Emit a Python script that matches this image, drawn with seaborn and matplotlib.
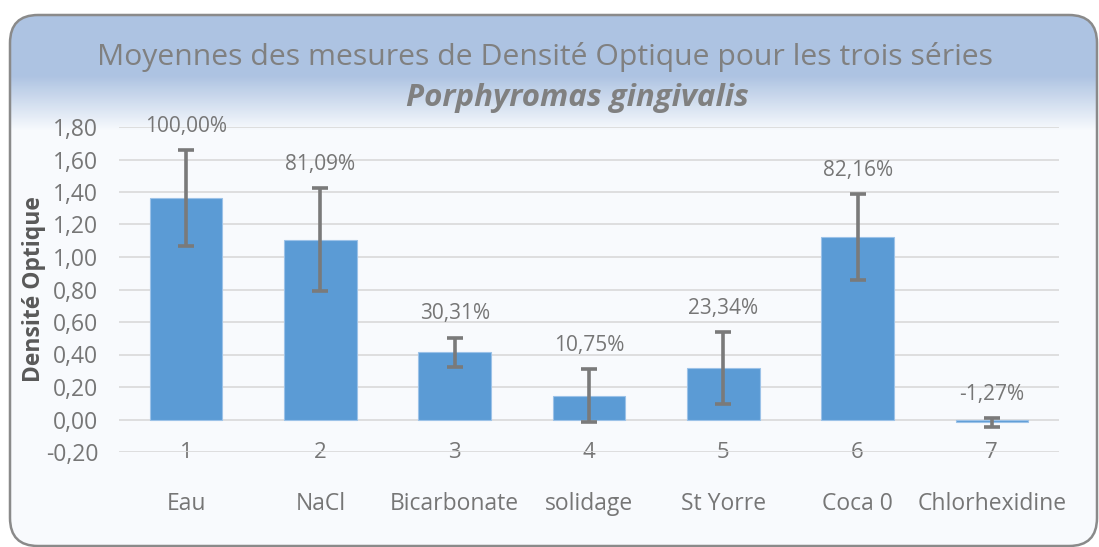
import numpy as np
import pandas as pd
import seaborn as sns
import matplotlib.pyplot as plt
from matplotlib.patches import FancyBboxPatch
from matplotlib.ticker import FuncFormatter

# data
numbers = ["1", "2", "3", "4", "5", "6", "7"]
names = ["Eau", "NaCl", "Bicarbonate", "solidage", "St Yorre", "Coca 0", "Chlorhexidine"]
density = [1.365, 1.107, 0.414, 0.147, 0.319, 1.121, -0.017]
errors = [0.295, 0.315, 0.090, 0.165, 0.221, 0.265, 0.027]
percent = [100.00, 81.09, 30.31, 10.75, 23.34, 82.16, -1.27]

df = pd.DataFrame({"num": numbers, "name": names, "od": density, "err": errors})

sns.set_theme(style="white")
plt.rcParams["font.family"] = ["Open Sans", "DejaVu Sans"]

grey = "#767676"
W, H = 1099, 547
fig = plt.figure(figsize=(W / 100, H / 100), dpi=100)

# background: rounded frame with a blue-to-white gradient at the top
bg = fig.add_axes([0, 0, 1, 1], zorder=-1)
bg.set_xlim(0, W)
bg.set_ylim(H, 0)
bg.axis("off")
frame = FancyBboxPatch((10, 15), 1087, 531, boxstyle="round,pad=0,rounding_size=28",
                       facecolor="none", edgecolor="#8a8a8a", lw=1.8, zorder=3)
bg.add_patch(frame)
ys = np.arange(H)
top_c = np.array([0xad, 0xc3, 0xe2]) / 255
low_c = np.array([0xf8, 0xfa, 0xfd]) / 255
t = np.clip((ys - 75) / 55, 0, 1)[:, None]
grad = top_c * (1 - t) + low_c * t
img = bg.imshow(np.repeat(grad[:, None, :], 2, axis=1), extent=(0, W, H, 0), aspect="auto", zorder=1)
img.set_clip_path(frame)

ax = fig.add_axes([119 / W, 1 - 452 / H, 940 / W, 325 / H])
ax.patch.set_alpha(0)
sns.barplot(data=df, x="num", y="od", color="#5b9bd5", width=0.54, saturation=1,
            edgecolor="#9cc2e8", linewidth=0.8, ax=ax, zorder=2)
pos = np.arange(len(df))
ax.errorbar(pos, df["od"], yerr=df["err"], fmt="none", ecolor="#7a7a7a",
            elinewidth=2.6, capsize=6, capthick=2.6, zorder=3)

for i, p in enumerate(percent):
    top = df["od"][i] + df["err"][i]
    ax.annotate(f"{p:.2f}%".replace(".", ","), xy=(i, top), xytext=(0, 17),
                textcoords="offset points", ha="center", va="center",
                fontsize=15, color=grey)

ax.set_ylim(-0.2, 1.8)
ax.set_xlim(-0.5, len(df) - 0.5)
ax.set_yticks(np.arange(-0.2, 1.81, 0.2))
ax.yaxis.set_major_formatter(FuncFormatter(lambda v, _: f"{v:.2f}".replace(".", ",")))
ax.grid(axis="y", color="#d9d9d9", lw=1.2, zorder=0)
ax.set_axisbelow(True)
for s in ax.spines.values():
    s.set_visible(False)
ax.tick_params(axis="y", length=0, pad=15, labelsize=16.5, labelcolor=grey)
ax.tick_params(axis="x", length=0, pad=0, labelsize=16, labelcolor=grey)
for lab in ax.get_xticklabels():
    lab.set_va("center")
ax.set_xlabel("")
ax.set_ylabel("Densité Optique", fontsize=16.5, fontweight="bold", color="#595959")
ax.yaxis.set_label_coords(-0.078, 0.5)

sec = ax.secondary_xaxis("bottom")
sec.set_xticks(pos, labels=names)
sec.tick_params(length=0, pad=29, labelsize=16.5, labelcolor=grey)
sec.spines["bottom"].set_visible(False)

fig.text(0.496, 1 - 57 / H, "Moyennes des mesures de Densité Optique pour les trois séries",
         ha="center", va="center", fontsize=21.7, color="#808080")
fig.text(0.525, 1 - 98 / H, "Porphyromas gingivalis", ha="center", va="center",
         fontsize=22.5, color="#808080", fontweight="bold", fontstyle="italic")

fig.savefig("out.png", dpi=100)
